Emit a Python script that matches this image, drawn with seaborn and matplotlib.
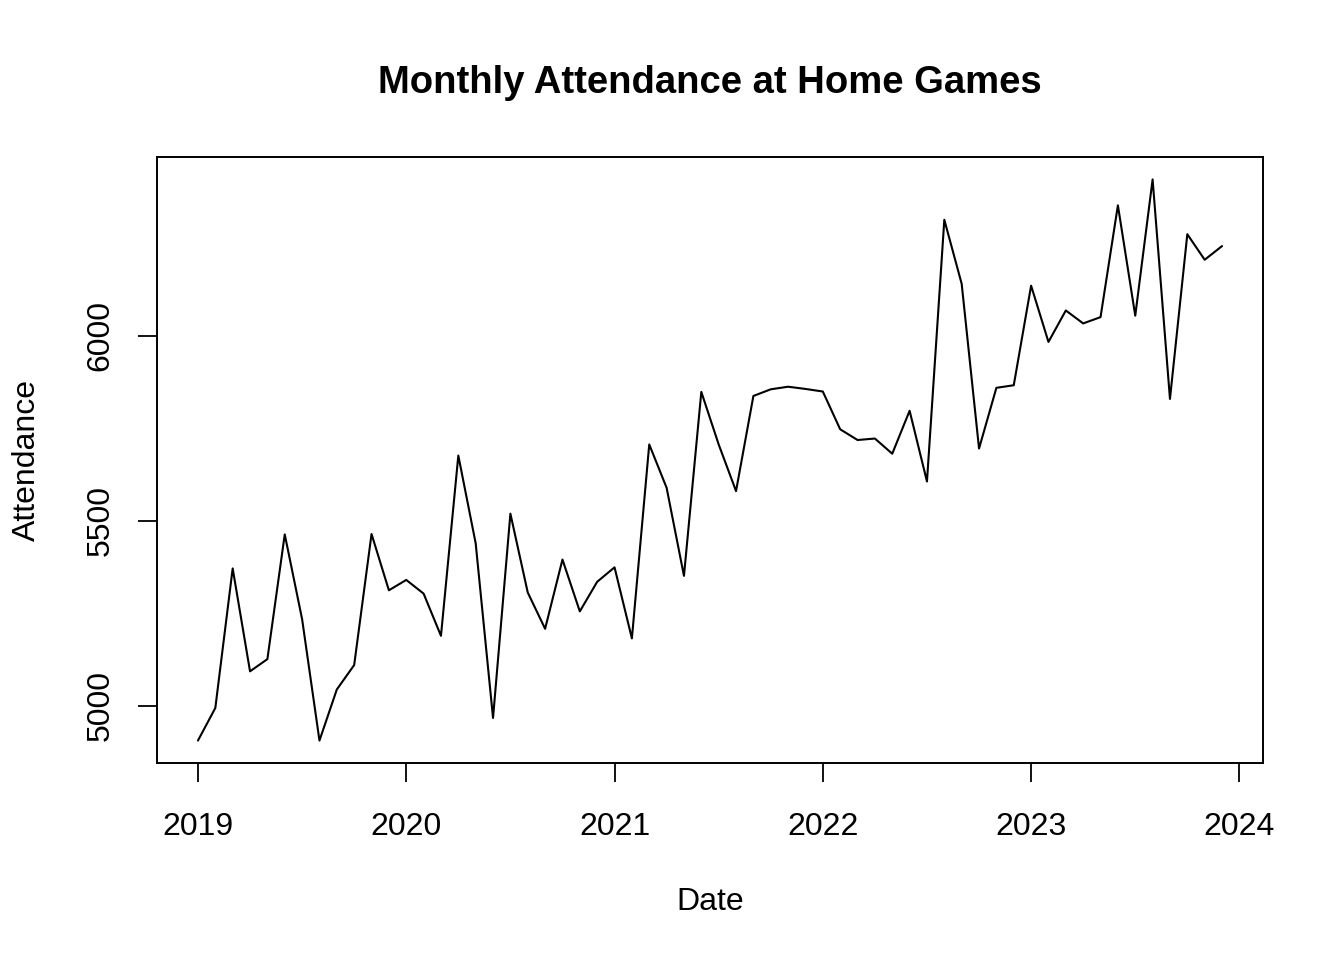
import numpy as np
import seaborn as sns
import matplotlib.pyplot as plt
import pandas as pd

years = [2019] * 12 + [2020] * 12 + [2021] * 12 + [2022] * 12 + [2023] * 12
months = list(range(1, 13)) * 5
attendance = [
    4906, 4994, 5371, 5093, 5126, 5463, 5234, 4906, 5044, 5110, 5464, 5312,
    5340, 5303, 5189, 5676, 5439, 4967, 5519, 5306, 5208, 5395, 5255, 5335,
    5374, 5182, 5706, 5589, 5351, 5848, 5706, 5580, 5837, 5855, 5862, 5856,
    5849, 5747, 5718, 5722, 5681, 5797, 5606, 6313, 6140, 5695, 5859, 5866,
    6135, 5983, 6068, 6033, 6050, 6352, 6054, 6422, 5829, 6274, 6205, 6242,
]
year_ticks = [2019, 2020, 2021, 2022, 2023, 2024]
att_ticks = [5000, 5500, 6000]

df = pd.DataFrame({"year": years, "month": months, "Attendance": attendance})
df["Date"] = df["year"] + (df["month"] - 1) / 12

sns.set_style("ticks")
plt.rcParams['font.family'] = ['Liberation Sans', 'DejaVu Sans']
plt.rcParams['text.color'] = 'black'

fig = plt.figure(figsize=(13.44, 9.6), dpi=100)
ax = fig.add_axes([157 / 1344, 1 - 763 / 960, (1263 - 157) / 1344, (763 - 157) / 960])

sns.lineplot(data=df, x="Date", y="Attendance", color="black", linewidth=1.5, ax=ax)

# R style axis extents (4% padding)
xr = df["Date"].max() - df["Date"].min()
ax.set_xlim(df["Date"].min() - 0.04 * xr, df["Date"].max() + 0.04 * xr)
yr = df["Attendance"].max() - df["Attendance"].min()
ax.set_ylim(df["Attendance"].min() - 0.04 * yr, df["Attendance"].max() + 0.04 * yr)

ax.set_xticks(year_ticks)
ax.set_xticklabels([str(y) for y in year_ticks])
ax.set_yticks(att_ticks)
ax.set_yticklabels([str(v) for v in att_ticks])
for lab in ax.get_yticklabels():
    lab.set_rotation(90)
    lab.set_va("center")

ax.tick_params(axis="both", length=14, width=1.3, labelsize=23, color="black", labelcolor="black")
ax.tick_params(axis="x", pad=21)
ax.tick_params(axis="y", pad=16)
for s in ax.spines.values():
    s.set_visible(True)
    s.set_linewidth(1.4)
    s.set_color("black")

ax.set_xlabel("")
ax.set_ylabel("")
fig.text(0.5 * (157 + 1263) / 1344, 1 - 93 / 960, "Monthly Attendance at Home Games",
         ha="center", va="baseline", fontsize=27.5, fontweight="bold", color="black")
fig.text(0.5 * (157 + 1263) / 1344, 1 - 910 / 960, "Date", ha="center", va="baseline",
         fontsize=23, color="black")
fig.text(42 / 1344, 1 - 460 / 960, "Attendance", ha="right", va="center", rotation=90,
         fontsize=23, color="black")

fig.savefig("out.png", dpi=100, facecolor="white")
